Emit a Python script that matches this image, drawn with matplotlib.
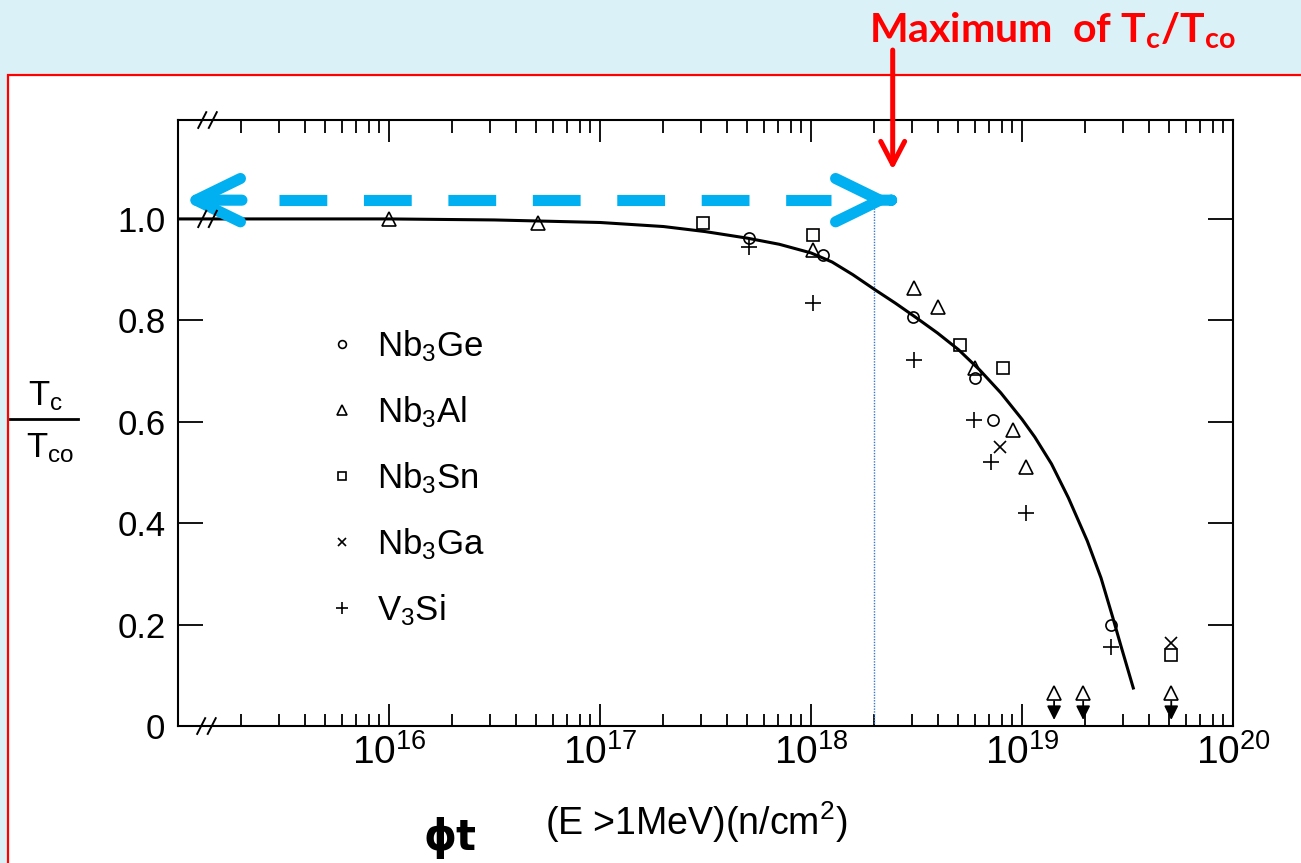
import numpy as np
import matplotlib
matplotlib.use("Agg")
import matplotlib.pyplot as plt
from matplotlib.patches import Rectangle
from matplotlib.lines import Line2D
from matplotlib.ticker import FixedLocator, FixedFormatter, LogLocator, NullLocator, NullFormatter

plt.rcParams['font.family'] = ['Liberation Sans', 'DejaVu Sans']

# fitted curve
curve_phi = [1e15, 3.16e15, 1e16, 3.16e16, 1e17, 2.0e17, 3.16e17, 5.01e17, 7.08e17,
             1.0e18, 1.26e18, 1.58e18, 2.0e18, 2.51e18, 3.16e18, 3.98e18, 5.01e18,
             6.31e18, 7.94e18, 1.0e19, 1.15e19, 1.38e19, 1.66e19, 2.04e19, 2.37e19,
             2.69e19, 2.95e19, 3.37e19]
curve_tc = [1.0, 1.0, 1.0, 0.998, 0.993, 0.985, 0.975, 0.962, 0.950,
            0.933, 0.915, 0.890, 0.861, 0.834, 0.805, 0.775, 0.742,
            0.702, 0.657, 0.605, 0.570, 0.517, 0.450, 0.365, 0.292,
            0.215, 0.157, 0.075]

# measured points
ge_phi = [5.07e17, 1.14e18, 3.04e18, 6.0e18, 7.3e18, 2.64e19]
ge_tc = [0.962, 0.929, 0.806, 0.686, 0.604, 0.199]

al_phi = [1.0e16, 5.1e16, 1.02e18, 3.07e18, 4.0e18, 6.0e18, 9.1e18, 1.04e19]
al_tc = [1.0, 0.992, 0.939, 0.864, 0.826, 0.706, 0.584, 0.511]
# upper limits (triangle with down arrow)
al_lim_phi = [1.42e19, 1.95e19, 5.1e19]
al_lim_tc = [0.065, 0.065, 0.065]

sn_phi = [3.07e17, 1.02e18, 5.1e18, 8.1e18, 5.1e19]
sn_tc = [0.992, 0.968, 0.751, 0.706, 0.14]

ga_phi = [7.9e18, 5.1e19]
ga_tc = [0.55, 0.164]

si_phi = [5.07e17, 1.02e18, 3.07e18, 5.9e18, 7.1e18, 1.04e19, 2.64e19]
si_tc = [0.945, 0.834, 0.722, 0.604, 0.521, 0.42, 0.156]

labels = [r'$\mathregular{Nb_3Ge}$', r'$\mathregular{Nb_3Al}$', r'$\mathregular{Nb_3Sn}$',
          r'$\mathregular{Nb_3Ga}$', r'$\mathregular{V_3Si}$']
decades = [1e16, 1e17, 1e18, 1e19, 1e20]
dec_labels = [r'$\mathregular{10^{16}}$', r'$\mathregular{10^{17}}$', r'$\mathregular{10^{18}}$',
              r'$\mathregular{10^{19}}$', r'$\mathregular{10^{20}}$']
yticks = [0, 0.2, 0.4, 0.6, 0.8, 1.0]
ytick_labels = ['0', '0.2', '0.4', '0.6', '0.8', '1.0']

max_phi = 2.0e18      # dotted blue marker line
arrow_tip = 2.44e18   # where the blue/red arrows point

blue = '#00B0F0'
red = '#FF0000'

fig = plt.figure(figsize=(13.01, 8.63), dpi=100)
fig.patch.set_facecolor('#DAF2F7')
fig.patches.append(Rectangle((8/1301, -0.05), 1.0, 1 - 75/863 + 0.05, transform=fig.transFigure,
                             facecolor='white', edgecolor=red, lw=1.6, zorder=-5))

ax = fig.add_axes([0.1368, 0.1587, 0.8109, 0.7022])
ax.set_xscale('log')
ax.set_xlim(1e15, 1e20)
ax.set_ylim(0, 1.195)

ax.plot(curve_phi, curve_tc, color='black', lw=2.2, zorder=3, solid_joinstyle='round')

mk = dict(linestyle='none', color='black', mfc='none', mew=1.2, zorder=4)
ax.plot(ge_phi, ge_tc, marker='o', ms=8, label=labels[0], **mk)
ax.plot(al_phi, al_tc, marker='^', ms=10, label=labels[1], **mk)
ax.plot(sn_phi, sn_tc, marker='s', ms=8, label=labels[2], **mk)
ax.plot(ga_phi, ga_tc, marker='x', ms=8, label=labels[3], **mk)
ax.plot(si_phi, si_tc, marker='+', ms=12, label=labels[4], **mk)
ax.plot(al_lim_phi, al_lim_tc, marker='^', ms=10, **mk)
for p, t in zip(al_lim_phi, al_lim_tc):
    ax.annotate('', xy=(p, 0.012), xytext=(p, t - 0.016),
                arrowprops=dict(arrowstyle='-|>,head_length=0.7,head_width=0.35',
                                color='black', lw=1.3, shrinkA=0, shrinkB=0, mutation_scale=12))

# blue dotted marker line and dashed double arrow
ax.plot([max_phi, max_phi], [0, 1.037], color='#3A78C8', lw=1.0, ls=(0, (1, 1)), zorder=2)
arrow_y = 1.037
ax.plot([3.02e15, 1.24e18], [arrow_y, arrow_y], color=blue, lw=8,
        linestyle=(0, (4.3, 3.3)), dash_capstyle='butt', zorder=5)
head = '->,head_length=1.6,head_width=0.78'
ax.annotate('', xy=(1.06e15, arrow_y), xytext=(2.01e15, arrow_y),
            arrowprops=dict(arrowstyle=head, color=blue, lw=8, shrinkA=0, shrinkB=0,
                            mutation_scale=20, capstyle='round', joinstyle='round'),
            zorder=5, annotation_clip=False)
ax.annotate('', xy=(arrow_tip, arrow_y), xytext=(2.4e18, arrow_y),
            arrowprops=dict(arrowstyle=head, color=blue, lw=8, shrinkA=0, shrinkB=0,
                            mutation_scale=20, capstyle='round', joinstyle='round'),
            zorder=5, annotation_clip=False)

# red arrow from the banner
ax.annotate('', xy=(arrow_tip, 0.918), xycoords=('data', 'axes fraction'),
            xytext=(arrow_tip, 1.1155), textcoords=('data', 'axes fraction'),
            arrowprops=dict(arrowstyle='->,head_length=1.65,head_width=0.86', color=red,
                            lw=3.6, shrinkA=0, shrinkB=0, mutation_scale=10),
            annotation_clip=False)

# ticks
ax.xaxis.set_major_locator(FixedLocator(decades))
ax.xaxis.set_major_formatter(FixedFormatter(dec_labels))
ax.xaxis.set_minor_locator(LogLocator(base=10, subs=np.arange(2, 10)))
ax.xaxis.set_minor_formatter(NullFormatter())
ax.yaxis.set_major_locator(FixedLocator(yticks))
ax.yaxis.set_major_formatter(FixedFormatter(ytick_labels))
ax.yaxis.set_minor_locator(NullLocator())
ax.tick_params(which='both', direction='in', top=True, right=True, width=1.3, color='black')
ax.tick_params(axis='x', which='major', length=16, labelsize=28, pad=6)
ax.tick_params(axis='x', which='minor', length=9)
ax.tick_params(axis='y', which='major', length=18, labelsize=25, pad=9)
for s in ax.spines.values():
    s.set_linewidth(1.5)

# axis break marks
def brk(xf, yval, trans, dy):
    for dx in (-0.005, 0.005):
        ax.plot([xf + dx - 0.0038, xf + dx + 0.0038], [yval - dy, yval + dy],
                transform=trans, color='black', lw=1.4, clip_on=False, zorder=6)

brk(0.028, 1.0, ax.transAxes, 0.013)
brk(0.027, 0.0, ax.transAxes, 0.013)
brk(0.028, 1.0, ax.get_yaxis_transform(), 0.016)

leg = ax.legend(loc='center left', bbox_to_anchor=(0.116, 0.409), frameon=False, fontsize=25,
                handlelength=0.6, handletextpad=0.7, labelspacing=0.87, markerscale=0.7,
                borderpad=0.4)

# y label as a stacked fraction
fig.text(46/1301, 1 - 396/863, r'$\mathregular{T_c}$', ha='center', va='center', fontsize=25)
fig.text(50/1301, 1 - 448/863, r'$\mathregular{T_{co}}$', ha='center', va='center', fontsize=25)
fig.add_artist(Line2D([10/1301, 78/1301], [1 - 419/863, 1 - 419/863],
                      transform=fig.transFigure, color='black', lw=2))

# x label
fig.text(450/1301, 1 - 838/863, 'ϕt', ha='center', va='center', fontsize=30,
         fontweight='bold', family='DejaVu Sans')
fig.text(545/1301, 1 - 822/863, r'(E >1MeV)(n/$\mathregular{cm^2}$)', ha='left', va='center',
         fontsize=27)

# banner title
fig.text(869/1301, 1 - 43/863, r'Maximum  of $\mathregular{T_c/T_{co}}$', ha='left',
         va='baseline', fontsize=29.5, fontweight='bold', color=red, family=['Lato', 'DejaVu Sans'])

fig.savefig('out.png', dpi=100)
